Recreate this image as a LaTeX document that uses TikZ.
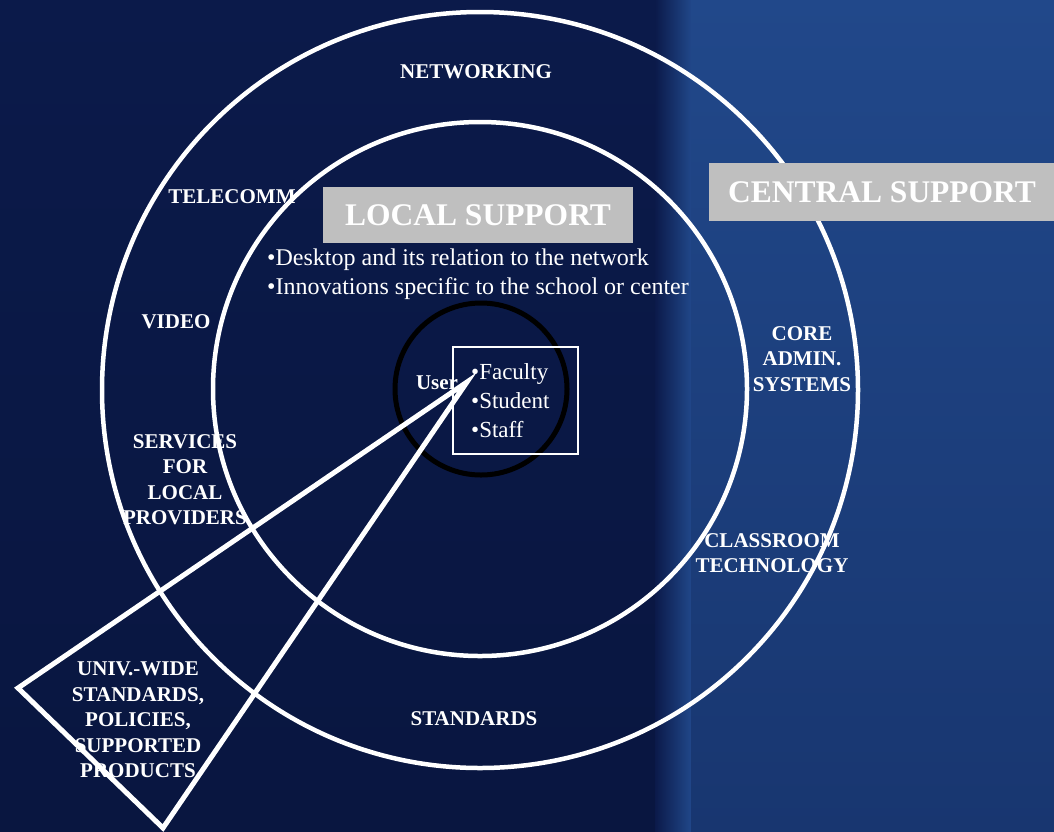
\documentclass[tikz,border=0pt]{standalone}
\usepackage{fontspec}
\setmainfont{Liberation Serif}
\definecolor{navyL}{RGB}{11,26,74}
\definecolor{navyLb}{RGB}{9,22,64}
\definecolor{blueR}{RGB}{33,72,138}
\definecolor{blueRb}{RGB}{24,54,112}
\definecolor{boxgray}{RGB}{191,191,191}
\begin{document}
\begin{tikzpicture}[x=1pt,y=-1pt,
  ring/.style={draw=white,line width=4.5pt,circle,inner sep=0pt},
  lbl/.style={text=white,font=\bfseries\fontsize{21}{25.5}\selectfont,align=center,inner sep=0pt},
  bul/.style={text=white,font=\fontsize{24}{29}\selectfont,align=left,inner sep=0pt},
  title/.style={fill=boxgray,text=white,font=\bfseries\fontsize{31.5}{34}\selectfont,inner sep=0pt}]
\useasboundingbox (0,0) rectangle (1054,831);
% background
\shade[top color=navyL,bottom color=navyLb] (0,0) rectangle (656,831);
\shade[left color=navyL,right color=blueR] (655,0) rectangle (692,831);
\shade[top color=blueR,bottom color=blueRb] (691,0) rectangle (1054,831);
% rings
\node[ring,minimum size=756pt] (outer) at (480,390) {};
\node[ring,minimum size=534pt] (inner) at (480,389) {};
\node[draw=black,line width=5pt,circle,inner sep=0pt,minimum size=172pt] (user) at (481,389) {};
% user box
\node[draw=white,line width=2pt,minimum width=125pt,minimum height=107pt,inner sep=0pt] (ubox) at (515.5,400.5) {};
\node[bul,anchor=north west,font=\fontsize{23}{29}\selectfont] (ulist) at (471,363) {\textbullet Faculty\\\textbullet Student\\\textbullet Staff};
\node[lbl] (ulbl) at (437,383) {User};
% kite arrow
\coordinate (tip) at (467,382);
\coordinate (kl) at (18,688);
\coordinate (kb) at (163,828);
\draw[white,line width=5pt,line join=miter] (tip) -- (kl) -- (kb) -- cycle;
% title boxes
\node[title,minimum width=310pt,minimum height=56pt] (local) at (478,215) {LOCAL SUPPORT};
\node[title,minimum width=346pt,minimum height=58pt] (central) at (882,192) {CENTRAL SUPPORT};
% local bullets
\node[bul,anchor=west] (b1) at (267,260) {\textbullet Desktop and its relation to the network};
\node[bul,anchor=west] (b2) at (267,289) {\textbullet Innovations specific to the school or center};
% labels
\node[lbl] (net) at (476,72) {NETWORKING};
\node[lbl] (tel) at (232,197) {TELECOMM};
\node[lbl] (vid) at (176,322) {VIDEO};
\node[lbl,anchor=north] (serv) at (185,434) {SERVICES\\FOR\\LOCAL\\PROVIDERS};
\node[lbl,anchor=north] (core) at (802,326) {CORE\\ADMIN.\\SYSTEMS};
\node[lbl,anchor=north] (class) at (772,533) {CLASSROOM\\TECHNOLOGY};
\node[lbl] (std) at (474,719) {STANDARDS};
\node[lbl,anchor=north] (univ) at (138,662) {UNIV.-WIDE\\STANDARDS,\\POLICIES,\\SUPPORTED\\PRODUCTS};
\end{tikzpicture}
\end{document}
